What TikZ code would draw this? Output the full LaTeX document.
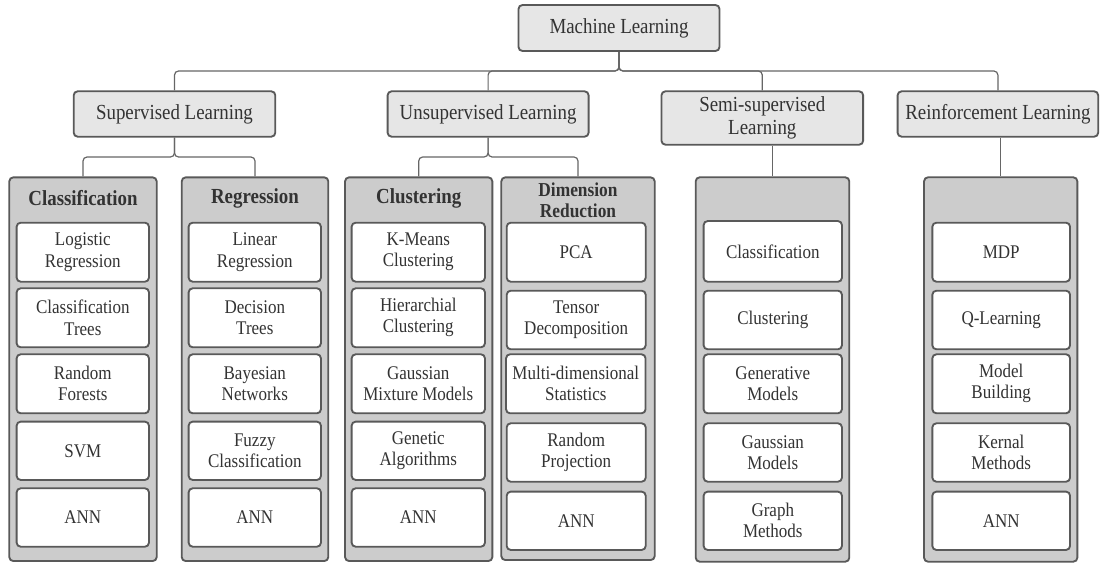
\documentclass[tikz,border=0pt]{standalone}
\usepackage{fontspec}
\setmainfont{Liberation Serif}[FakeStretch=0.88]
\definecolor{boxline}{HTML}{595959}
\definecolor{connline}{HTML}{666666}
\definecolor{topfill}{HTML}{E6E6E6}
\definecolor{groupfill}{HTML}{CCCCCC}
\definecolor{ink}{HTML}{333333}
\begin{document}
\begin{tikzpicture}[x=0.75pt,y=-0.75pt,
  wh/.style 2 args={minimum width=#1*0.75pt, minimum height=#2*0.75pt},
  basebox/.style={draw=boxline, line width=1.4pt, rounded corners=3pt, inner sep=0pt, align=center, text=ink},
  topbox/.style={basebox, fill=topfill, font=\fontsize{16.1}{17.3}\selectfont},
  groupbox/.style={basebox, fill=groupfill},
  itembox/.style={basebox, fill=white, font=\fontsize{14.5}{15.8}\selectfont},
  grouptitle/.style={text=ink, inner sep=0pt, align=center, font=\bfseries\fontsize{16.1}{15.5}\selectfont},
  conn/.style={draw=connline, line width=0.9pt, rounded corners=3pt}]
\useasboundingbox (0,0) rectangle (1100,563);

% ---- root and the four learning paradigms ----
\node[topbox, wh={201}{46}] (ml) at (619,28) {Machine Learning};
\node[topbox, wh={201.6}{45.4}] (sup) at (174.5,114) {Supervised Learning};
\node[topbox, wh={201}{45.4}] (uns) at (488.1,114) {Unsupervised Learning};
\node[topbox, wh={201.7}{53.4}] (semi) at (762.3,118) {Semi-supervised\\Learning};
\node[topbox, wh={200.6}{45.4}] (rei) at (997.9,114) {Reinforcement Learning};

% ---- group containers ----
\node[groupbox, wh={147.4}{383.7}] (cls) at (83,369.2) {};
\node[groupbox, wh={146.6}{383.7}] (reg) at (255,369.2) {};
\node[groupbox, wh={147.3}{383.7}] (clu) at (418.7,369.2) {};
\node[groupbox, wh={153.4}{382.7}] (dr) at (578,368.7) {};
\node[groupbox, wh={153.6}{384.4}] (semc) at (772.5,369.5) {};
\node[groupbox, wh={153.3}{384.4}] (reic) at (1000.7,369.5) {};

% ---- group titles ----
\node[grouptitle] (clsT) at (83,198) {Classification};
\node[grouptitle] (regT) at (255,198) {Regression};
\node[grouptitle] (cluT) at (418.7,198.3) {Clustering};
\node[grouptitle, font=\bfseries\fontsize{14.8}{15.5}\selectfont] (drT) at (578,200) {Dimension\\Reduction};

% ---- Classification items ----
\node[itembox, wh={132.3}{59}] (c1) at (82.8,252.2) {Logistic\\Regression};
\node[itembox, wh={132.3}{59}] (c2) at (82.8,317.8) {Classification\\Trees};
\node[itembox, wh={132.3}{59}] (c3) at (82.8,383.8) {Random\\Forests};
\node[itembox, wh={132.3}{58.3}] (c4) at (82.8,450.8) {SVM};
\node[itembox, wh={132.3}{58.4}] (c5) at (82.8,517.5) {ANN};

% ---- Regression items ----
\node[itembox, wh={132.3}{59}] (r1) at (254.8,252.2) {Linear\\Regression};
\node[itembox, wh={132.3}{59}] (r2) at (254.8,317.8) {Decision\\Trees};
\node[itembox, wh={132.3}{59}] (r3) at (254.8,383.8) {Bayesian\\Networks};
\node[itembox, wh={132.3}{58.3}] (r4) at (254.8,450.8) {Fuzzy\\Classification};
\node[itembox, wh={132.3}{58.4}] (r5) at (254.8,517.5) {ANN};

% ---- Clustering items ----
\node[itembox, wh={133.3}{59}] (k1) at (418.3,252.2) {K-Means\\Clustering};
\node[itembox, wh={133.3}{59}] (k2) at (418.3,317.8) {Hierarchial\\Clustering};
\node[itembox, wh={133.3}{59}] (k3) at (418.3,383.8) {Gaussian\\Mixture Models};
\node[itembox, wh={133.3}{58.3}] (k4) at (418.3,450.8) {Genetic\\Algorithms};
\node[itembox, wh={133.3}{58.4}] (k5) at (418.3,517.5) {ANN};

% ---- Dimension reduction items ----
\node[itembox, wh={139}{59}] (d1) at (576.2,252.2) {PCA};
\node[itembox, wh={139}{58.6}] (d2) at (576.2,320) {Tensor\\Decomposition};
\node[itembox, wh={139.5}{59}] (d3) at (575.8,383.8) {Multi-dimensional\\Statistics};
\node[itembox, wh={139}{58.4}] (d4) at (576.2,452.5) {Random\\Projection};
\node[itembox, wh={139}{58.3}] (d5) at (576.2,520.8) {ANN};

% ---- Semi-supervised items ----
\node[itembox, wh={138.3}{60.7}] (s1) at (772.8,251.4) {Classification};
\node[itembox, wh={138.3}{58.6}] (s2) at (772.8,320) {Clustering};
\node[itembox, wh={138.3}{59}] (s3) at (772.8,383.8) {Generative\\Models};
\node[itembox, wh={138.3}{58.4}] (s4) at (772.8,452.5) {Gaussian\\Models};
\node[itembox, wh={138.3}{58.3}] (s5) at (772.8,520.8) {Graph\\Methods};

% ---- Reinforcement items ----
\node[itembox, wh={137.7}{59}] (q1) at (1001.2,252.2) {MDP};
\node[itembox, wh={137.7}{58.6}] (q2) at (1001.2,320) {Q-Learning};
\node[itembox, wh={137.7}{59}] (q3) at (1001.2,383.8) {Model\\Building};
\node[itembox, wh={137.7}{58.4}] (q4) at (1001.2,452.5) {Kernal\\Methods};
\node[itembox, wh={137.7}{58.3}] (q5) at (1001.2,520.8) {ANN};

% ---- connectors ----
\coordinate (bus) at (619,71);
\coordinate (supbus) at (174.5,157);
\coordinate (unsbus) at (488.1,157);

\draw[conn] (ml.south) -- (bus) -| (sup.north);
\draw[conn] (ml.south) -- (bus) -| (uns.north);
\draw[conn] (ml.south) -- (bus) -| (semi.north);
\draw[conn] (ml.south) -- (bus) -| (rei.north);

\draw[conn] (sup.south) -- (supbus) -| (cls.north);
\draw[conn] (sup.south) -- (supbus) -| (reg.north);
\draw[conn] (uns.south) -- (unsbus) -| (clu.north);
\draw[conn] (uns.south) -- (unsbus) -| (dr.north);

\draw[conn] (semc.north |- semi.south) -- (semc.north);
\draw[conn] (reic.north |- rei.south) -- (reic.north);
\end{tikzpicture}
\end{document}
